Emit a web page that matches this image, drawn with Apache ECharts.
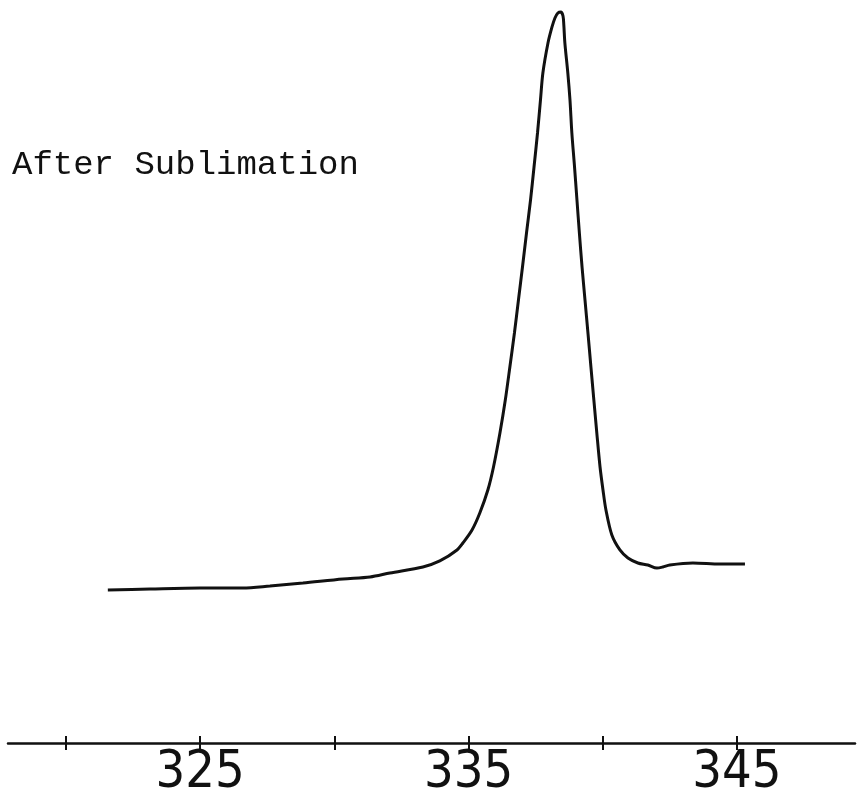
<!DOCTYPE html>
<html>
<head>
<meta charset="utf-8">
<script src="https://cdn.jsdelivr.net/npm/echarts@6/dist/echarts.min.js"></script>
<style>
html,body{margin:0;padding:0;background:#fff;}
#chart{width:859px;height:806px;}
</style>
</head>
<body>
<div id="chart"></div>
<script>
// x positions (axis units) and relative intensity (arbitrary units)
const xValues = [321.56,323.13,324.99,326.59,327.60,328.83,330.32,331.33,332.07,333.30,333.93,334.57,334.79,335.13,335.42,335.72,335.93,336.17,336.37,336.54,336.71,336.86,337.01,337.16,337.31,337.44,337.57,337.68,337.77,337.96,338.11,338.22,338.33,338.44,338.52,338.55,338.59,338.70,338.78,338.85,338.95,339.04,339.13,339.23,339.34,339.45,339.56,339.67,339.78,339.90,340.01,340.12,340.34,340.64,340.94,341.31,341.68,342.02,342.24,342.50,343.36,344.37,345.30];
const yValues = [20.59,20.73,20.86,20.86,21.13,21.53,22.07,22.34,22.88,23.69,24.50,25.98,26.92,28.67,30.96,34.05,37.15,41.72,46.16,50.61,55.18,59.62,64.06,68.64,73.08,77.52,82.10,86.54,90.17,94.21,96.37,97.58,98.25,98.38,97.85,96.64,94.21,90.17,86.54,82.10,77.52,73.08,68.64,64.06,59.62,55.18,50.61,46.16,41.72,37.15,34.05,31.36,27.99,25.98,24.90,24.23,23.96,23.55,23.69,23.96,24.23,24.09,24.09];
const tickValues = [320,325,330,335,340,345];
const labelValues = [325,335,345];
const annotation = 'After Sublimation';

const data = xValues.map((x,i)=>[x,yValues[i]]);
const chart = echarts.init(document.getElementById('chart'));
// main axis extent
const xMin = 317.84, xMax = 349.40;
const pxPerUnit = 847 / (xMax - xMin);
// thin companion grid just above the axis (upper half of the tick crosses), same scale
const x2Min = 315, x2Max = 350;
const g2Left = 8 - (xMin - x2Min) * pxPerUnit;
const g2Right = 4 - (x2Max - xMax) * pxPerUnit;
chart.setOption({
  animation:false,
  backgroundColor:'#fff',
  grid:[
    {left:8,right:4,top:0,bottom:63,outerBoundsMode:'none'},
    {left:g2Left,right:g2Right,top:736,bottom:63,outerBoundsMode:'none'}
  ],
  xAxis:[{
    type:'value',gridIndex:0,min:xMin,max:xMax,position:'bottom',
    axisLine:{show:true,onZero:false,lineStyle:{color:'#111',width:2.5}},
    axisTick:{show:true,length:7,inside:false,lineStyle:{color:'#111',width:2},customValues:tickValues},
    axisLabel:{show:true,customValues:labelValues,margin:4,color:'#111',fontSize:52,fontFamily:'"Liberation Sans Narrow","DejaVu Sans Condensed",sans-serif'},
    splitLine:{show:false}
  },{
    type:'value',gridIndex:1,min:x2Min,max:x2Max,interval:5,position:'bottom',
    axisLine:{show:false,onZero:false},
    axisTick:{show:false},
    axisLabel:{show:false},
    splitLine:{show:true,lineStyle:{color:'#111',width:2}}
  }],
  yAxis:[{type:'value',gridIndex:0,min:0,max:100,show:false},{type:'value',gridIndex:1,min:0,max:1,show:false,splitLine:{show:false}}],
  graphic:[{
    type:'text',left:12,top:148,
    style:{text:annotation,fontFamily:'"Liberation Mono",monospace',fontSize:34,fill:'#111'}
  }],
  series:[{
    type:'line',data:data,xAxisIndex:0,yAxisIndex:0,smooth:0.3,showSymbol:false,
    lineStyle:{color:'#111',width:3}
  },{
    type:'line',data:[],xAxisIndex:1,yAxisIndex:1,showSymbol:false
  }]
});
</script>
</body>
</html>
